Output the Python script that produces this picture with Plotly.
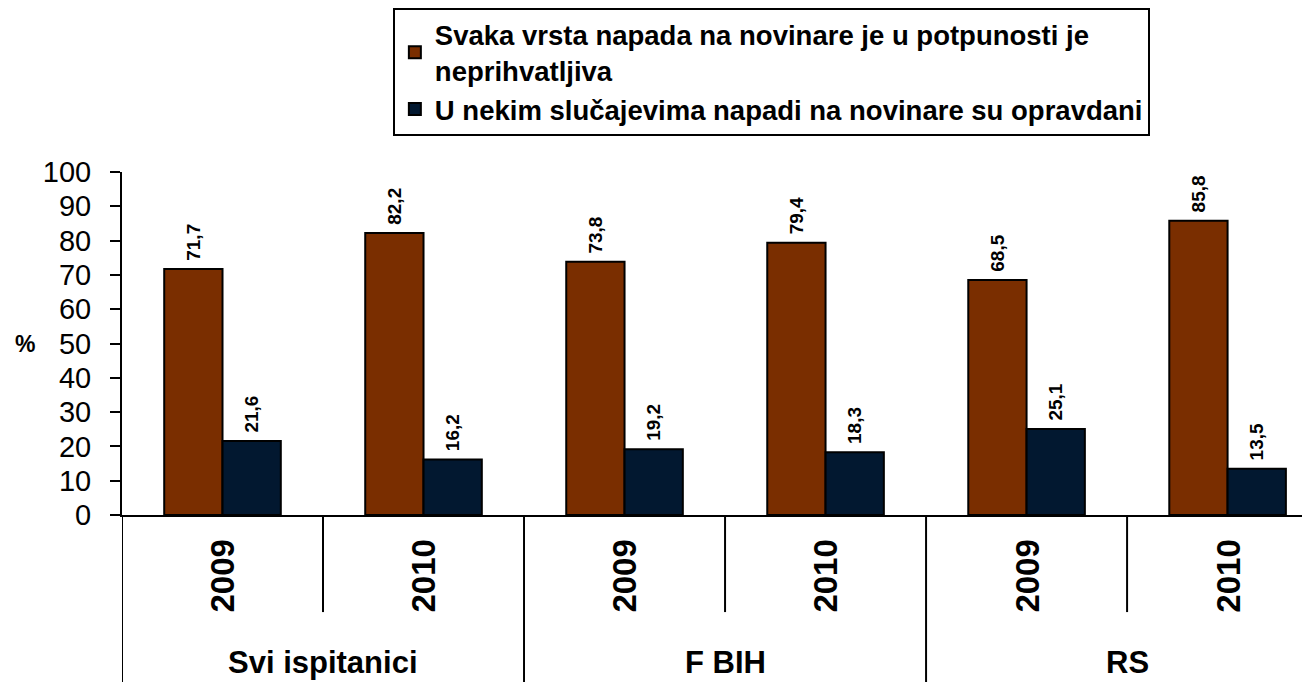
import plotly.graph_objects as go

groups = ["Svi ispitanici", "F BIH", "RS"]
years = ["2009", "2010"]
series_names = [
    "Svaka vrsta napada na novinare je u potpunosti je<br>neprihvatljiva",
    "U nekim slučajevima napadi na novinare su opravdani",
]
unacceptable = [71.7, 82.2, 73.8, 79.4, 68.5, 85.8]
justified = [21.6, 16.2, 19.2, 18.3, 25.1, 13.5]
colors = ["#7A2E00", "#021830"]

FONT = "Liberation Sans, Arial, sans-serif"
n = len(groups) * len(years)
xs = list(range(n))

fig = go.Figure()
for name, vals, col in zip(series_names, [unacceptable, justified], colors):
    fig.add_trace(go.Bar(
        x=xs, y=vals, name=name,
        marker=dict(color=col, line=dict(color="black", width=2)),
        texttemplate="\u00a0%{y:.1f}", textposition="outside", textangle=-90,
        textfont=dict(family=FONT, size=19, color="black", weight="bold"),
        cliponaxis=False,
    ))

shapes = []
annotations = []
# dividers below the axis
for k in range(n + 1):
    xpos = k - 0.5
    full = (k % len(years) == 0)
    shapes.append(dict(type="line", xref="x", yref="paper", x0=xpos, x1=xpos,
                       y0=0, y1=-0.5 if full else -0.283,
                       line=dict(color="black", width=2)))
# year labels
for i in xs:
    annotations.append(dict(x=i, y=-0.178, xref="x", yref="paper",
                            xanchor="center", yanchor="middle",
                            text=years[i % len(years)], textangle=-90, showarrow=False,
                            font=dict(family=FONT, size=33, color="black", weight="bold")))
# group labels
for g, gname in enumerate(groups):
    annotations.append(dict(x=g * len(years) + (len(years) - 1) / 2, y=-0.43,
                            xref="x", yref="paper", xanchor="center", yanchor="middle",
                            text=gname, showarrow=False,
                            font=dict(family=FONT, size=31, color="black", weight="bold")))
annotations.append(dict(x=-0.082, y=0.5, xref="paper", yref="paper", text="%",
                        xanchor="center", yanchor="middle", showarrow=False,
                        font=dict(family=FONT, size=23, color="black", weight="bold")))

fig.update_layout(
    width=1302, height=674,
    margin=dict(l=114, r=0, t=164, b=167),
    paper_bgcolor="white", plot_bgcolor="white",
    separators=", ",
    barmode="group", bargap=0.42, bargroupgap=0,
    font=dict(family=FONT, color="black"),
    xaxis=dict(range=[-0.5, 5.41], showticklabels=False, ticks="",
               showgrid=False, zeroline=False, showline=True,
               linecolor="black", linewidth=2),
    yaxis=dict(range=[0, 100], dtick=10, ticks="outside", ticklen=10, tickwidth=2,
               tickcolor="black", showgrid=False, zeroline=False, showline=True,
               linecolor="black", linewidth=2, ticklabelstandoff=13,
               tickfont=dict(family=FONT, size=29, color="black")),
    legend=dict(x=0.228, y=1.478, xanchor="left", yanchor="top",
                bordercolor="black", borderwidth=2, bgcolor="white",
                font=dict(family=FONT, size=27.5, color="black", weight="bold"),
                traceorder="normal", tracegroupgap=0),
    shapes=shapes, annotations=annotations,
    showlegend=True,
)

fig.write_html("out.html")
